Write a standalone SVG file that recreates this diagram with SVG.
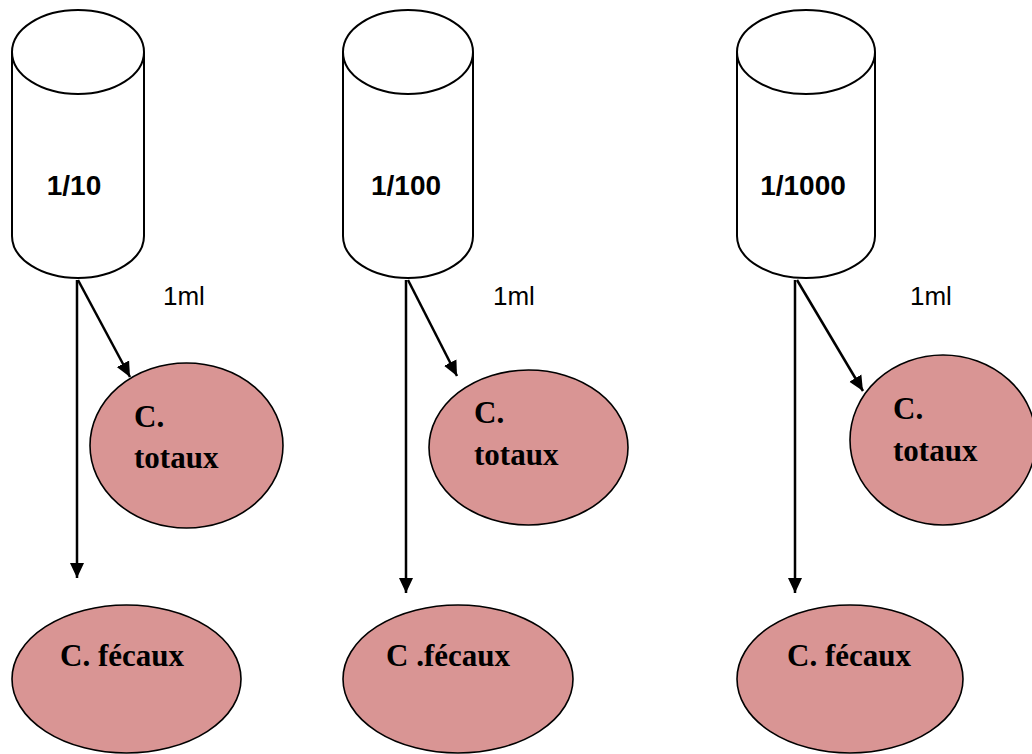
<svg xmlns="http://www.w3.org/2000/svg" width="1032" height="754" viewBox="0 0 1032 754">
<defs>
<style>
.cyl{fill:#fff;stroke:#000;stroke-width:2}
.ov{fill:#D99594;stroke:#000;stroke-width:1.6}
.lab{font-family:"Liberation Sans",Arial,sans-serif;font-weight:bold;font-size:28px;fill:#000}
.ml{font-family:"Liberation Sans",Arial,sans-serif;font-size:26px;fill:#000}
.tx{font-family:"Liberation Serif","Times New Roman",serif;font-weight:bold;font-size:31px;fill:#000}
.ar{fill:none;stroke:#000;stroke-width:2.5;marker-end:url(#ah)}
</style>
<marker id="ah" markerUnits="userSpaceOnUse" markerWidth="16" markerHeight="15" refX="15" refY="7" orient="auto" viewBox="0 0 16 14">
<path d="M0,0 L15,7 L0,14 z" fill="#000"/>
</marker>
</defs>
<g id="tube1">
<path class="cyl" d="M12,52 L12,236 A66,42 0 0 0 144,236 L144,52"/>
<ellipse class="cyl" cx="78" cy="52" rx="66" ry="42"/>
<text class="lab" x="74" y="195" text-anchor="middle">1/10</text>
</g>
<g id="tube2">
<path class="cyl" d="M343,52 L343,236 A65,42 0 0 0 473,236 L473,52"/>
<ellipse class="cyl" cx="408" cy="52" rx="65" ry="42"/>
<text class="lab" x="406" y="195" text-anchor="middle">1/100</text>
</g>
<g id="tube3">
<path class="cyl" d="M737,52 L737,236 A69,42 0 0 0 875,236 L875,52"/>
<ellipse class="cyl" cx="806" cy="52" rx="69" ry="42"/>
<text class="lab" x="803" y="195" text-anchor="middle">1/1000</text>
</g>
<g id="labels-1ml">
<text class="ml" x="163" y="305">1ml</text>
<text class="ml" x="493" y="305">1ml</text>
<text class="ml" x="910" y="305">1ml</text>
</g>
<g id="totaux1">
<ellipse class="ov" cx="186.5" cy="445.5" rx="96.5" ry="82.5"/>
<text class="tx" x="134" y="427">C.</text>
<text class="tx" x="134" y="468">totaux</text>
</g>
<g id="totaux2">
<ellipse class="ov" cx="528.5" cy="447.5" rx="99.5" ry="77.5"/>
<text class="tx" x="474" y="423">C.</text>
<text class="tx" x="474" y="465">totaux</text>
</g>
<g id="totaux3">
<ellipse class="ov" cx="943" cy="440" rx="93" ry="85"/>
<text class="tx" x="893" y="419">C.</text>
<text class="tx" x="893" y="461">totaux</text>
</g>
<g id="fecaux1">
<ellipse class="ov" cx="126.5" cy="679" rx="114.5" ry="74"/>
<text class="tx" x="60" y="666">C. fécaux</text>
</g>
<g id="fecaux2">
<ellipse class="ov" cx="458" cy="679" rx="115" ry="74"/>
<text class="tx" x="386" y="666">C .fécaux</text>
</g>
<g id="fecaux3">
<ellipse class="ov" cx="850" cy="679" rx="113" ry="74"/>
<text class="tx" x="787" y="666">C. fécaux</text>
</g>
<g id="connectors">
<line class="ar" x1="77" y1="280" x2="77" y2="578"/>
<line class="ar" x1="78" y1="280" x2="130" y2="377"/>
<line class="ar" x1="406" y1="280" x2="406" y2="593"/>
<line class="ar" x1="408" y1="280" x2="457" y2="376"/>
<line class="ar" x1="795" y1="280" x2="795" y2="593"/>
<line class="ar" x1="797" y1="280" x2="863" y2="391"/>
</g>
</svg>
